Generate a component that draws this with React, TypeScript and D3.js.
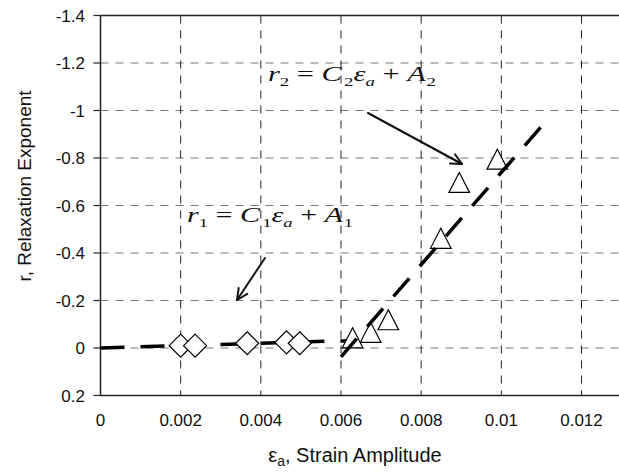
import React from "react";
import * as d3 from "d3";

const xTicks = [0, 0.002, 0.004, 0.006, 0.008, 0.01, 0.012];
const xTickLabels = ["0", "0.002", "0.004", "0.006", "0.008", "0.01", "0.012"];
const yTicks = [-1.4, -1.2, -1.0, -0.8, -0.6, -0.4, -0.2, 0, 0.2];
const yTickLabels = ["-1.4", "-1.2", "-1", "-0.8", "-0.6", "-0.4", "-0.2", "0", "0.2"];

// Series 1: diamonds (low strain amplitude)
const diamondX = [0.002, 0.00236, 0.00366, 0.00464, 0.00497];
const diamondY = [-0.01, -0.01, -0.02, -0.024, -0.02];

// Series 2: triangles (high strain amplitude)
const triangleX = [0.00629, 0.00674, 0.00718, 0.00849, 0.00895, 0.0099];
const triangleY = [-0.043, -0.066, -0.119, -0.462, -0.697, -0.795];

// Linear fits r = C*eps + A (end points)
const fit1X = [0, 0.0064];
const fit1Y = [0, -0.032];
const fit2X = [0.006, 0.011];
const fit2Y = [0.037, -0.933];

const W = 619;
const H = 472;

const sans = "'Liberation Sans', Arial, Helvetica, sans-serif";
const serif = "'Liberation Serif', 'Times New Roman', Times, serif";

function Arrow({ x1, y1, x2, y2 }: { x1: number; y1: number; x2: number; y2: number }) {
  const ang = Math.atan2(y2 - y1, x2 - x1);
  const len = 12;
  const spread = 0.45;
  const ax = x2 - len * Math.cos(ang - spread);
  const ay = y2 - len * Math.sin(ang - spread);
  const bx = x2 - len * Math.cos(ang + spread);
  const by = y2 - len * Math.sin(ang + spread);
  return (
    <g stroke="#111" strokeWidth={2} fill="none" strokeLinecap="round" strokeLinejoin="round">
      <line x1={x1} y1={y1} x2={x2} y2={y2} />
      <polyline points={`${ax},${ay} ${x2},${y2} ${bx},${by}`} />
    </g>
  );
}

function Equation({ x, y, idx, width }: { x: number; y: number; idx: string; width: number }) {
  const sub = 13;
  const dd = 5;
  return (
    <text x={x} y={y} fontFamily={serif} fontSize={21} fill="#111" textLength={width} lengthAdjust="spacingAndGlyphs">
      <tspan fontStyle="italic">r</tspan>
      <tspan fontSize={sub} dy={dd}>{idx}</tspan>
      <tspan dy={-dd}> = </tspan>
      <tspan fontStyle="italic">C</tspan>
      <tspan fontSize={sub} dy={dd} dx={1.5}>{idx}</tspan>
      <tspan dy={-dd} fontStyle="italic">ε</tspan>
      <tspan fontSize={sub} dy={dd} fontStyle="italic">a</tspan>
      <tspan dy={-dd}> + </tspan>
      <tspan fontStyle="italic">A</tspan>
      <tspan fontSize={sub} dy={dd} dx={0.5}>{idx}</tspan>
    </text>
  );
}

export default function App() {
  const x = d3.scaleLinear().domain([0, 0.012]).range([100.5, 581.5]);
  const y = d3.scaleLinear().domain([0.2, -1.4]).range([395.5, 15.5]);
  const xEnd = x(0.013);
  const xLeft = x(0);
  const yTop = y(-1.4);
  const yBot = y(0.2);

  const line = d3
    .line<[number, number]>()
    .x((d) => x(d[0]))
    .y((d) => y(d[1]));

  const fit1 = fit1X.map((v, i) => [v, fit1Y[i]] as [number, number]);
  const fit2 = fit2X.map((v, i) => [v, fit2Y[i]] as [number, number]);

  const dR = 11.5;
  const tW = 10.3;
  const tH = 10;

  return (
    <svg
      width={W}
      height={H}
      viewBox={`0 0 ${W} ${H}`}
      style={{ position: "absolute", left: 0, top: 0, background: "#fff" }}
    >
      <rect x={0} y={0} width={W} height={H} fill="#fff" />

      {/* horizontal grid lines */}
      {yTicks
        .filter((t) => t !== -1.4 && t !== 0.2)
        .map((t) => (
          <line
            key={"hg" + t}
            x1={xLeft}
            x2={xEnd}
            y1={y(t)}
            y2={y(t)}
            stroke="#777"
            strokeWidth={1}
            strokeDasharray="8 7"
          />
        ))}
      {/* vertical grid lines */}
      {xTicks
        .filter((t) => t !== 0)
        .map((t) => (
          <line
            key={"vg" + t}
            x1={x(t)}
            x2={x(t)}
            y1={yTop}
            y2={yBot}
            stroke="#222"
            strokeWidth={1}
            strokeDasharray="8 7"
          />
        ))}

      {/* axes / frame */}
      <line x1={xLeft} x2={xEnd} y1={yTop} y2={yTop} stroke="#222" strokeWidth={1.5} />
      <line x1={xLeft} x2={xEnd} y1={yBot} y2={yBot} stroke="#222" strokeWidth={1.5} />
      <line x1={xLeft} x2={xLeft} y1={yTop} y2={yBot} stroke="#222" strokeWidth={1.5} />
      {yTicks.map((t) => (
        <line key={"yt" + t} x1={xLeft - 7} x2={xLeft} y1={y(t)} y2={y(t)} stroke="#222" strokeWidth={1.2} />
      ))}

      {/* tick labels */}
      {yTicks.map((t, i) => (
        <text
          key={"yl" + t}
          x={85}
          y={y(t)}
          dy="0.36em"
          textAnchor="end"
          fontFamily={sans}
          fontSize={17}
          fill="#111"
        >
          {yTickLabels[i]}
        </text>
      ))}
      {xTicks.map((t, i) => (
        <text
          key={"xl" + t}
          x={x(t)}
          y={426}
          textAnchor="middle"
          fontFamily={sans}
          fontSize={17}
          fill="#111"
        >
          {xTickLabels[i]}
        </text>
      ))}

      {/* axis titles */}
      <text
        transform={`translate(31,186) rotate(-90)`}
        textAnchor="middle"
        fontFamily={sans}
        fontSize={19}
        fill="#111"
      >
        r, Relaxation Exponent
      </text>
      <text x={355} y={462} textAnchor="middle" fontFamily={sans} fontSize={20} fill="#111">
        ε<tspan fontSize={14} dy={4}>a</tspan>
        <tspan dy={-4}>, Strain Amplitude</tspan>
      </text>

      {/* fit line 1 */}
      <path d={line(fit1) || ""} fill="none" stroke="#000" strokeWidth={3.5} strokeDasharray="24 16" />

      {/* diamonds */}
      {diamondX.map((v, i) => {
        const cx = x(v);
        const cy = y(diamondY[i]);
        return (
          <path
            key={"d" + i}
            d={`M${cx},${cy - dR}L${cx + dR},${cy}L${cx},${cy + dR}L${cx - dR},${cy}Z`}
            fill="#fff"
            stroke="#000"
            strokeWidth={1.2}
          />
        );
      })}

      {/* triangles */}
      {triangleX.map((v, i) => {
        const cx = x(v);
        const cy = y(triangleY[i]);
        return (
          <path
            key={"t" + i}
            d={`M${cx},${cy - tH}L${cx + tW},${cy + tH}L${cx - tW},${cy + tH}Z`}
            fill="#fff"
            stroke="#000"
            strokeWidth={1.2}
          />
        );
      })}

      {/* fit line 2 */}
      <path d={line(fit2) || ""} fill="none" stroke="#000" strokeWidth={3.5} strokeDasharray="24 16" />

      {/* equations */}
      <Equation x={268} y={81} idx="2" width={168} />
      <Equation x={187} y={222} idx="1" width={166} />

      <Arrow x1={368} y1={113} x2={462} y2={164} />
      <Arrow x1={265} y1={258} x2={237} y2={300} />
    </svg>
  );
}
